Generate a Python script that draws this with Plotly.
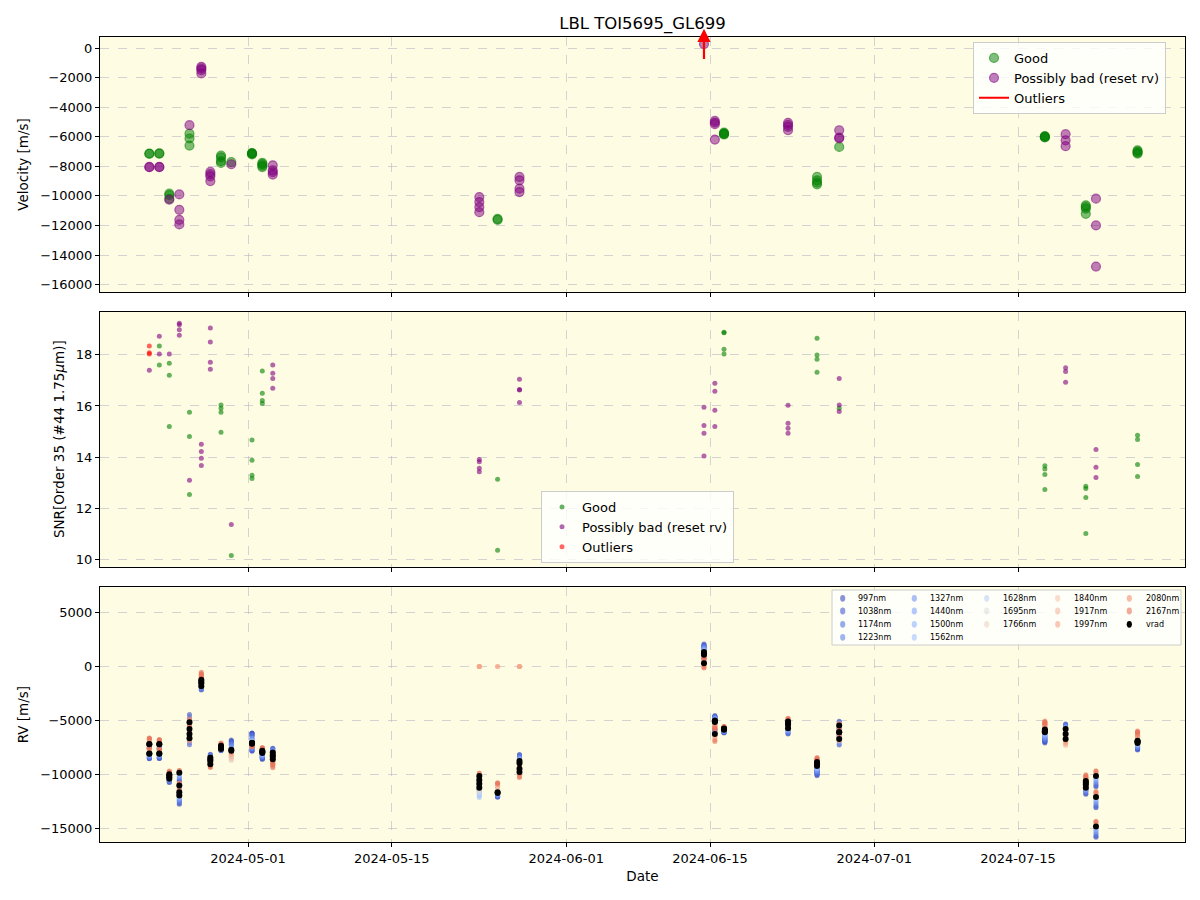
import plotly.graph_objects as go

# ---------------- data ----------------
epochs = ["2024-04-21 09:20", "2024-04-22 08:40", "2024-04-23 08:00", "2024-04-24 07:25",
          "2024-04-25 07:10", "2024-04-26 10:50", "2024-04-27 07:55", "2024-04-28 08:50",
          "2024-04-29 08:55", "2024-05-01 09:20", "2024-05-02 09:25", "2024-05-03 09:50",
          "2024-05-23 12:40", "2024-05-25 07:25", "2024-05-27 10:35", "2024-06-14 09:50",
          "2024-06-15 11:15", "2024-06-16 08:40", "2024-06-22 14:20", "2024-06-25 10:05",
          "2024-06-27 13:55", "2024-07-17 14:40", "2024-07-19 15:10", "2024-07-21 14:25",
          "2024-07-22 14:10", "2024-07-26 15:20"]

# Velocity panel
good_epoch = [0, 0, 1, 1, 2, 2, 2, 4, 4, 4, 7, 7, 7, 7, 8, 9, 9, 9, 9, 10, 10, 10, 10,
              13, 13, 17, 17, 17, 17, 19, 19, 19, 19, 20, 21, 21, 21, 21, 23, 23, 23, 23,
              25, 25, 25, 25]
good_vel = [-7140, -7150, -7140, -7130, -9850, -9950, -10200, -5790, -6120, -6600,
            -7280, -7400, -7650, -7770, -7710, -7100, -7150, -7190, -7120,
            -7770, -7850, -7950, -8050, -11620, -11560, -5720, -5790, -5800, -5850,
            -8720, -8950, -9100, -9220, -6690, -6010, -5950, -6050, -6000,
            -10640, -10870, -11210, -10750, -6920, -7140, -7000, -7080]

bad_epoch = [0, 0, 1, 1, 2, 3, 3, 3, 3, 4, 5, 5, 5, 5, 6, 6, 6, 6, 8, 11, 11, 11, 11,
             12, 12, 12, 12, 14, 14, 14, 14, 15, 15, 15, 15, 16, 16, 16, 16,
             18, 18, 18, 18, 20, 20, 20, 22, 22, 22, 24, 24, 24]
bad_vel = [-8040, -8060, -8050, -8040, -10260, -9900, -10940, -11620, -11930, -5220,
           -1270, -1380, -1490, -1720, -8380, -8530, -8680, -9000, -7860,
           -7930, -8270, -8400, -8560, -10080, -10420, -10760, -11100,
           -8720, -8950, -9510, -9740, 270, 1080, 1330, 1200,
           -4930, -5040, -5150, -6190, -5060, -5200, -5330, -5560,
           -5560, -6050, -6110, -5830, -6240, -6640, -10190, -12000, -14780]

outlier_arrow_epoch = 15
outlier_arrow_tail = -850
outlier_arrow_head = 1300

# SNR panel
snr_good_epoch = [1, 1, 2, 2, 2, 4, 4, 4, 7, 7, 7, 7, 8, 9, 9, 9, 9, 10, 10, 10, 10,
                  13, 13, 17, 17, 17, 17, 19, 19, 19, 19, 20, 21, 21, 21, 21,
                  23, 23, 23, 23, 25, 25, 25, 25]
snr_good = [18.35, 17.6, 17.67, 17.2, 15.2, 15.75, 14.81, 12.54, 16.04, 15.91, 15.75, 14.97,
            10.15, 14.67, 13.88, 13.29, 13.16, 17.37, 16.5, 16.21, 16.1, 13.13, 10.35,
            18.89, 18.87, 18.22, 18.03, 18.65, 18.0, 17.83, 17.32, 15.91,
            13.66, 13.53, 13.32, 12.73, 12.86, 12.77, 12.42, 11.01, 14.85, 14.69, 13.71, 13.24]

snr_bad_epoch = [0, 1, 1, 2, 3, 3, 3, 3, 4, 5, 5, 5, 5, 6, 6, 6, 6, 8, 11, 11, 11, 11,
                 12, 12, 12, 12, 14, 14, 14, 14, 15, 15, 15, 15, 16, 16, 16, 16,
                 18, 18, 18, 18, 20, 20, 20, 22, 22, 22, 24, 24, 24]
snr_bad = [17.4, 18.73, 18.03, 18.03, 19.24, 19.18, 18.98, 18.77, 13.09,
           14.5, 14.22, 13.95, 13.67, 19.05, 18.5, 17.71, 17.44, 11.36,
           17.6, 17.28, 17.08, 16.69, 13.91, 13.82, 13.56, 13.43,
           17.05, 16.65, 16.63, 16.14, 15.95, 15.24, 14.93, 14.04,
           16.89, 16.58, 15.83, 15.2, 16.03, 15.32, 15.13, 14.93,
           17.08, 16.04, 15.78, 17.5, 17.35, 16.93, 14.3, 13.6, 13.2]

snr_out_epoch = [0, 0, 0]
snr_out = [18.35, 18.08, 18.03]

# RV panel (per-band)
vrad_epoch = [0, 0, 0, 0, 1, 1, 1, 1, 2, 2, 2, 2, 3, 3, 3, 3, 4, 4, 4, 4, 5, 5, 5, 5,
              6, 6, 6, 6, 7, 7, 7, 7, 8, 8, 9, 9, 9, 9, 10, 10, 10, 10, 11, 11, 11, 11,
              12, 12, 12, 12, 13, 13, 14, 14, 14, 14, 15, 15, 15, 15, 16, 16, 16, 16,
              17, 17, 17, 17, 18, 18, 18, 18, 19, 19, 19, 19, 20, 20, 20, 20,
              21, 21, 21, 21, 22, 22, 22, 23, 23, 23, 23, 24, 24, 24, 25, 25, 25, 25]
vrad = [-7180, -7200, -8060, -8080, -7170, -8050, -7190, -8070,
        -9980, -10100, -10250, -10390, -9830, -11010, -11640, -11950,
        -5160, -5780, -6250, -6650, -1240, -1400, -1550, -1840,
        -8430, -8600, -8740, -9050, -7340, -7450, -7550, -7650, -7700, -7800,
        -7090, -7050, -7150, -7100, -7800, -7850, -7950, -8000,
        -7960, -8200, -8330, -8580, -10140, -10500, -10850, -11230, -11700, -11650,
        -8740, -8950, -9460, -9770, 1330, 1080, 1200, 300,
        -5000, -5080, -5150, -6250, -5780, -5750, -5820, -5850,
        -5090, -5250, -5400, -5720, -8830, -8950, -9100, -9210,
        -5470, -6090, -6100, -6720, -5840, -6000, -6090, -5950,
        -5780, -6250, -6720, -10610, -10920, -11230, -10750,
        -10140, -12080, -14810, -6870, -7090, -6950, -7000]

band_names = ["997nm", "1038nm", "1174nm", "1223nm", "1327nm", "1440nm", "1500nm", "1562nm",
              "1628nm", "1695nm", "1766nm", "1840nm", "1917nm", "1997nm", "2080nm", "2167nm"]

# per-epoch offsets of each band from vrad [m/s]
band_offsets = [
    [-450, -400, -350, -300, -200, -150, -100, -50, 0, 50, 100, 200, 300, 400, 480, 550],
    [-450, -420, -330, -280, -200, -120, -80, -20, 30, 60, 120, 180, 250, 300, 350, 400],
    [-350, -320, -260, -200, -150, -100, -60, -20, 20, 50, 90, 130, 180, 220, 260, 300],
    [-800, -720, -600, -500, -400, -300, -200, -120, -60, 0, 40, 80, 120, 150, 180, 200],
    [700, -600, 500, -400, 300, -200, 150, -100, 50, 0, -50, 100, -150, 200, -250, 300],
    [-350, -300, -250, -200, -150, -100, -50, 0, 50, 100, 200, 300, 400, 500, 600, 700],
    [300, 260, 220, 180, 140, 100, 60, 20, -20, -60, -100, -140, -180, -220, -260, -300],
    [-150, -130, -110, -90, -70, -50, -30, -10, 10, 40, 70, 100, 140, 180, 220, 250],
    [900, 800, 650, 500, 300, 100, -100, -300, -600, -800, -900, -700, -500, -300, -150, 0],
    [900, -700, 700, -500, 400, -300, 200, -150, 100, -100, 50, -50, 0, -100, -200, -300],
    [-600, -540, -450, -380, -300, -220, -150, -80, -20, 30, 80, 130, 180, 220, 260, 300],
    [400, 360, 300, 240, 180, 120, 60, 0, -80, -160, -240, -340, -450, -560, -680, -800],
    [-200, -150, -100, -100, -300, -500, -700, -900, -600, -400, -200, 0, 100, 200, 250, 250],
    [-400, -350, -300, -250, -200, -100, 0, 100, 200, 300, 400, 500, 600, 700, 800, 900],
    [600, 540, 460, 380, 300, 220, 140, 60, -20, -100, -180, -260, -340, -400, -450, -500],
    [750, 680, 580, 480, 380, 280, 180, 100, 30, -40, -110, -180, -250, -320, -390, -450],
    [450, 400, 340, 280, 220, 160, 100, 40, -30, -100, -180, -260, -350, -450, -570, -700],
    [-300, -270, -230, -190, -150, -110, -70, -30, 0, 30, 60, 90, 120, 150, 180, 200],
    [-530, -480, -410, -340, -270, -200, -140, -80, -20, 30, 80, 130, 180, 220, 260, 300],
    [-900, -820, -700, -580, -460, -350, -250, -160, -80, 0, 70, 140, 210, 270, 340, 400],
    [400, -550, 350, -450, 250, -300, 150, -150, 50, 0, -50, 100, -100, 150, -150, 200],
    [-1000, -900, -760, -620, -480, -350, -230, -120, -20, 80, 180, 280, 400, 520, 660, 800],
    [450, 400, 330, 260, 190, 120, 50, -20, -100, -200, -300, -450, -600, -400, -200, 0],
    [-600, -540, -450, -360, -270, -180, -100, -30, 40, 110, 180, 260, 340, 420, 510, 600],
    [-1000, -900, -760, -620, -480, -350, -230, -120, -30, 50, 130, 210, 290, 360, 430, 500],
    [-650, -590, -500, -410, -320, -230, -150, -70, 0, 80, 170, 270, 380, 500, 700, 900],
]
# band 1997nm reported 0 m/s on these epochs
zero_band = "1997nm"
zero_band_epochs = [12, 13, 14]
zero_band_value = 0

date_ticks = ["2024-05-01", "2024-05-15", "2024-06-01", "2024-06-15", "2024-07-01", "2024-07-15"]

# ---------------- styling ----------------
band_colors = [(59, 76, 192), (70, 93, 207), (84, 113, 222), (98, 130, 234), (113, 148, 244),
               (129, 164, 251), (144, 178, 254), (162, 193, 254), (190, 208, 246), (221, 221, 221),
               (236, 211, 197), (244, 196, 173), (246, 183, 156), (245, 165, 135), (240, 143, 113),
               (230, 116, 91)]
FONT = "DejaVu Sans"
BG = "#fefce2"
GRID = "rgba(176,176,196,0.55)"
W, H = 1200, 900
OFF = 8  # page offset of the plot div
L, R, T, B = 92, 23, 29, 66
PW, PH = W - L - R, H - T - B


def px2x(px):
    """page pixel x -> paper fraction"""
    return (px - OFF - L) / PW


def px2y(py):
    """page pixel y -> paper fraction"""
    return (H - B - (py - OFF)) / PH


fig = go.Figure()

# --- top: velocity ---
fig.add_trace(go.Scatter(
    x=[epochs[e] for e in good_epoch], y=good_vel, mode="markers", name="Good",
    marker=dict(size=9, color="rgba(0,128,0,0.5)", line=dict(color="rgba(0,128,0,0.55)", width=1.2)),
    xaxis="x", yaxis="y", legend="legend"))
fig.add_trace(go.Scatter(
    x=[epochs[e] for e in bad_epoch], y=bad_vel, mode="markers", name="Possibly bad (reset rv)",
    marker=dict(size=9, color="rgba(128,0,128,0.5)", line=dict(color="rgba(128,0,128,0.55)", width=1.2)),
    xaxis="x", yaxis="y", legend="legend"))
fig.add_trace(go.Scatter(
    x=[None], y=[None], mode="lines", name="Outliers",
    line=dict(color="red", width=2), xaxis="x", yaxis="y", legend="legend"))
fig.add_annotation(
    x=epochs[outlier_arrow_epoch], y=outlier_arrow_head, ax=epochs[outlier_arrow_epoch],
    ay=outlier_arrow_tail, xref="x", yref="y", axref="x", ayref="y", text="",
    showarrow=True, arrowhead=2, arrowsize=1.2, arrowwidth=2.2, arrowcolor="red")

# --- middle: SNR ---
fig.add_trace(go.Scatter(
    x=[epochs[e] for e in snr_good_epoch], y=snr_good, mode="markers", name="Good",
    marker=dict(size=5, color="rgba(0,128,0,0.6)"), xaxis="x2", yaxis="y2", legend="legend2"))
fig.add_trace(go.Scatter(
    x=[epochs[e] for e in snr_bad_epoch], y=snr_bad, mode="markers", name="Possibly bad (reset rv)",
    marker=dict(size=5, color="rgba(128,0,128,0.6)"), xaxis="x2", yaxis="y2", legend="legend2"))
fig.add_trace(go.Scatter(
    x=[epochs[e] for e in snr_out_epoch], y=snr_out, mode="markers", name="Outliers",
    marker=dict(size=5, color="rgba(255,0,0,0.6)"), xaxis="x2", yaxis="y2", legend="legend2"))

# --- bottom: RV per band ---
for b, name in enumerate(band_names):
    xs, ys = [], []
    for e, v in zip(vrad_epoch, vrad):
        xs.append(epochs[e])
        if name == zero_band and e in zero_band_epochs:
            ys.append(zero_band_value)
        else:
            ys.append(v + band_offsets[e][b])
    c = band_colors[b]
    fig.add_trace(go.Scatter(
        x=xs, y=ys, mode="markers", name=name, showlegend=False,
        marker=dict(size=5, color="rgba(%d,%d,%d,0.6)" % c),
        xaxis="x3", yaxis="y3"))
fig.add_trace(go.Scatter(
    x=[epochs[e] for e in vrad_epoch], y=vrad, mode="markers", name="vrad", showlegend=False,
    marker=dict(size=6, color="black"), xaxis="x3", yaxis="y3"))

# --- manual compact legend for bottom panel ---
leg_x0, leg_x1, leg_y0, leg_y1 = 832, 1181, 590, 645
fig.add_shape(type="rect", xref="paper", yref="paper",
              x0=px2x(leg_x0), x1=px2x(leg_x1), y0=px2y(leg_y1), y1=px2y(leg_y0),
              fillcolor="rgba(255,255,255,0.8)", line=dict(color="#cccccc", width=1), layer="above")
col_marker_px = [842.7, 914.3, 986.7, 1057.7, 1129.3]
col_text_px = [855.5, 927.5, 1000.5, 1071.5, 1143.5]
row_px = [598.3, 611.0, 624.3, 637.3]
entries = list(zip(band_names, ["rgba(%d,%d,%d,0.6)" % c for c in band_colors])) + [("vrad", "black")]
columns = [entries[0:4], entries[4:8], entries[8:11], entries[11:14], entries[14:17]]
for ci, col in enumerate(columns):
    for ri, (lab, colr) in enumerate(col):
        fig.add_shape(type="circle", xref="paper", yref="paper", xsizemode="pixel", ysizemode="pixel",
                      xanchor=px2x(col_marker_px[ci]), yanchor=px2y(row_px[ri]),
                      x0=-2.6, x1=2.6, y0=-3.4, y1=3.4, fillcolor=colr, line=dict(width=0), layer="above")
        fig.add_annotation(x=px2x(col_text_px[ci]), y=px2y(row_px[ri]), xref="paper", yref="paper",
                           text=lab, showarrow=False, xanchor="left", yanchor="middle",
                           font=dict(family=FONT, size=8, color="black"))

# ---------------- layout ----------------
xrange_ = ["2024-04-16 14:00", "2024-07-31 06:15"]
axis_common = dict(showline=True, linecolor="black", linewidth=1, mirror=True,
                   ticks="outside", ticklen=4, tickcolor="black", showgrid=True,
                   gridcolor=GRID, griddash="dash", gridwidth=1, zeroline=False,
                   tickfont=dict(family=FONT, size=13, color="black"))
xcommon = dict(axis_common, type="date", range=xrange_, tickvals=date_ticks, tickformat="%Y-%m-%d")

fig.update_layout(
    width=W, height=H, margin=dict(l=L, r=R, t=T, b=B),
    paper_bgcolor="white", plot_bgcolor=BG,
    font=dict(family=FONT, size=13, color="black"),
    title=dict(text="LBL TOI5695_GL699", x=px2x(642.5), xref="paper", xanchor="center",
               y=1 - (23 - OFF) / H, yanchor="middle", font=dict(family=FONT, size=16.5, color="black")),
    xaxis=dict(xcommon, domain=[0, 1], anchor="y", showticklabels=False),
    xaxis2=dict(xcommon, domain=[0, 1], anchor="y2", matches="x", showticklabels=False),
    xaxis3=dict(xcommon, domain=[0, 1], anchor="y3", matches="x",
                title=dict(text="Date", font=dict(family=FONT, size=13.5), standoff=6)),
    yaxis=dict(axis_common, domain=[px2y(292), 1.0], range=[-16500, 745], dtick=2000, tickformat="d",
               title=dict(text="Velocity [m/s]", font=dict(family=FONT, size=13.5), standoff=8)),
    yaxis2=dict(axis_common, domain=[px2y(566.7), px2y(311.7)], range=[9.71, 19.69], dtick=2,
                title=dict(text="SNR[Order 35 (#44 1.75<i>μ</i>m)]", font=dict(family=FONT, size=13.5),
                           standoff=8)),
    yaxis3=dict(axis_common, domain=[0, px2y(587.3)], range=[-16240, 7315], dtick=5000, tickformat="d",
                title=dict(text="RV [m/s]", font=dict(family=FONT, size=13.5), standoff=8)),
    legend=dict(x=px2x(973), y=px2y(42), xanchor="left", yanchor="top",
                bgcolor="rgba(255,255,255,0.8)", bordercolor="#cccccc", borderwidth=1,
                font=dict(family=FONT, size=13, color="black")),
    legend2=dict(x=px2x(541), y=px2y(491), xanchor="left", yanchor="top",
                 bgcolor="rgba(255,255,255,0.8)", bordercolor="#cccccc", borderwidth=1,
                 font=dict(family=FONT, size=13, color="black")),
    showlegend=True,
)

fig.write_html("out.html")
